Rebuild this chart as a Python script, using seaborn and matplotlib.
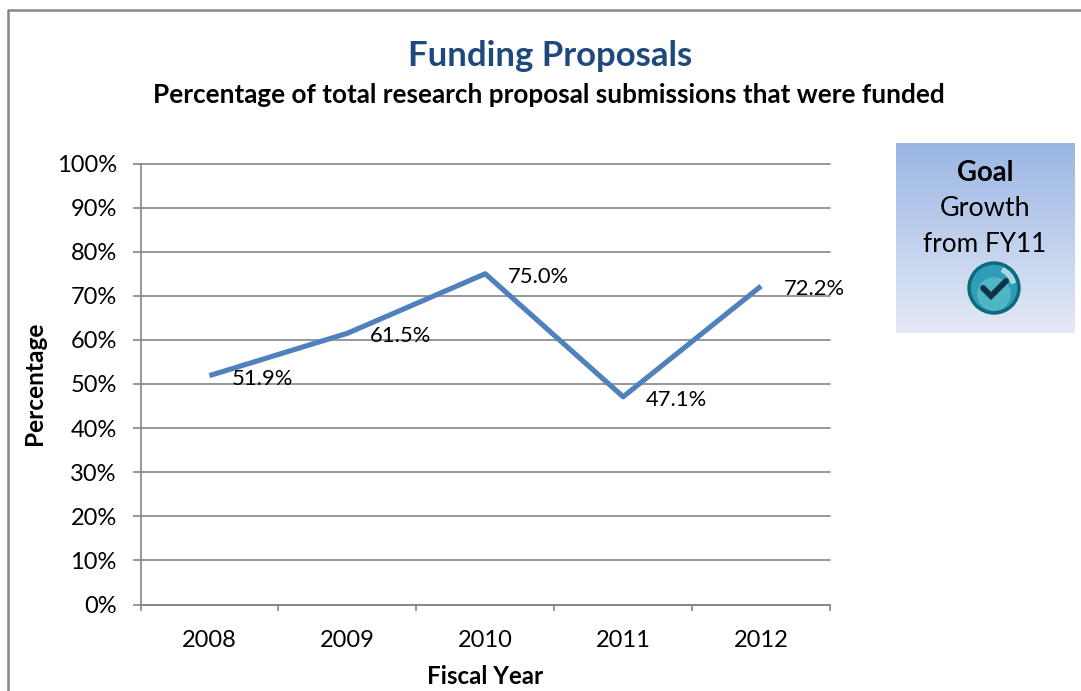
import numpy as np
import seaborn as sns
import matplotlib.pyplot as plt
from matplotlib.lines import Line2D
from matplotlib.patches import Circle, Wedge

# chart data
years = ['2008', '2009', '2010', '2011', '2012']
funded = [51.9, 61.5, 75.0, 47.1, 72.2]
yticks = [0, 10, 20, 30, 40, 50, 60, 70, 80, 90, 100]

W, H = 1081, 691
GRID = '#868686'

sns.set_theme(style='white')
plt.rcParams['font.family'] = ['Lato', 'DejaVu Sans']

fig = plt.figure(figsize=(W / 100, H / 100), dpi=100, facecolor='white')


def fx(px):
    return px / W


def fy(py):
    return 1 - py / H


# outer chart border, runs off the top right of the picture
fig.add_artist(Line2D([fx(8), fx(8), fx(1090)], [fy(700), fy(10), fy(10)],
                      color=GRID, lw=1.8))

ax = fig.add_axes([fx(140.5), fy(604.5), fx(830 - 140.5), (604.5 - 163.5) / H])
sns.lineplot(x=years, y=funded, ax=ax, color='#4F81BD', linewidth=3.7,
             sort=False, errorbar=None, solid_capstyle='butt')

ax.set_xlim(-0.5, 4.5)
ax.set_ylim(0, 100)
ax.set_yticks(yticks)
ax.set_yticklabels([f'{v}%' for v in yticks])
ax.set_xticks(range(len(years)))
ax.set_xticklabels(years)
ax.set_xticks(np.arange(-0.5, 5), minor=True)
ax.grid(axis='y', color=GRID, lw=1.2, clip_on=False)
ax.set_axisbelow(True)
ax.tick_params(axis='y', length=6, width=1.2, color=GRID, pad=11, labelsize=17,
               labelcolor='black', left=True)
ax.tick_params(axis='x', which='major', length=0, pad=18.5, labelsize=17, labelcolor='black')
ax.tick_params(axis='x', which='minor', length=4.5, width=1.2, color=GRID, bottom=True)
for side in ['top', 'right']:
    ax.spines[side].set_visible(False)
for side in ['left', 'bottom']:
    ax.spines[side].set_color(GRID)
    ax.spines[side].set_linewidth(1.2)

# data labels sit to the right of each point
for i, v in enumerate(funded):
    ax.annotate(f'{v:.1f}%', (i, v), xytext=(53, -3), textcoords='offset pixels',
                ha='center', va='center', fontsize=15.8, color='black')

fig.text(fx(550), fy(56), 'Funding Proposals', ha='center', va='center',
         fontsize=25, fontweight='bold', color='#1F497D')
fig.text(fx(549), fy(95), 'Percentage of total research proposal submissions that were funded',
         ha='center', va='center', fontsize=18.8, fontweight='bold', color='black')
fig.text(fx(34), fy(383), 'Percentage', rotation=90, ha='center', va='center',
         fontsize=17.6, fontweight='bold', color='black')
fig.text(fx(485), fy(677), 'Fiscal Year', ha='center', va='center',
         fontsize=17.4, fontweight='bold', color='black')

# goal box with vertical gradient
box = fig.add_axes([fx(896), fy(333), fx(1075 - 896), (333 - 143) / H])
top_c = np.array([0x9B, 0xB6, 0xE4]) / 255
bot_c = np.array([0xE4, 0xEA, 0xF6]) / 255
grad = np.linspace(0, 1, 190)[:, None, None]
box.imshow(top_c + (bot_c - top_c) * grad, aspect='auto', extent=(896, 1075, 333, 143))
box.set_xlim(896, 1075)
box.set_ylim(333, 143)
box.axis('off')
box.text(985, 173, 'Goal', ha='center', va='center', fontsize=19.8, fontweight='bold', color='black')
box.text(985, 208, 'Growth', ha='center', va='center', fontsize=19.4, color='black')
box.text(985, 245, 'from FY11', ha='center', va='center', fontsize=18.8, color='black')

# check mark icon
box.add_patch(Circle((994, 288), 26, color='#0B6A7C', zorder=3))
box.add_patch(Circle((994, 288), 22.5, color='#2F9DB5', zorder=4))
box.add_patch(Circle((994, 294), 16, color='#5CC0CC', alpha=0.7, zorder=4.5))
box.add_patch(Wedge((994, 288), 22, 295, 345, width=4, color='#D5EEF3', alpha=0.7, zorder=5))
box.add_line(Line2D([983, 991, 1006], [288, 296, 281], color='#0F3345', lw=4.2,
                    zorder=6, solid_capstyle='round', solid_joinstyle='miter'))

fig.savefig('out.png', dpi=100, facecolor='white')
